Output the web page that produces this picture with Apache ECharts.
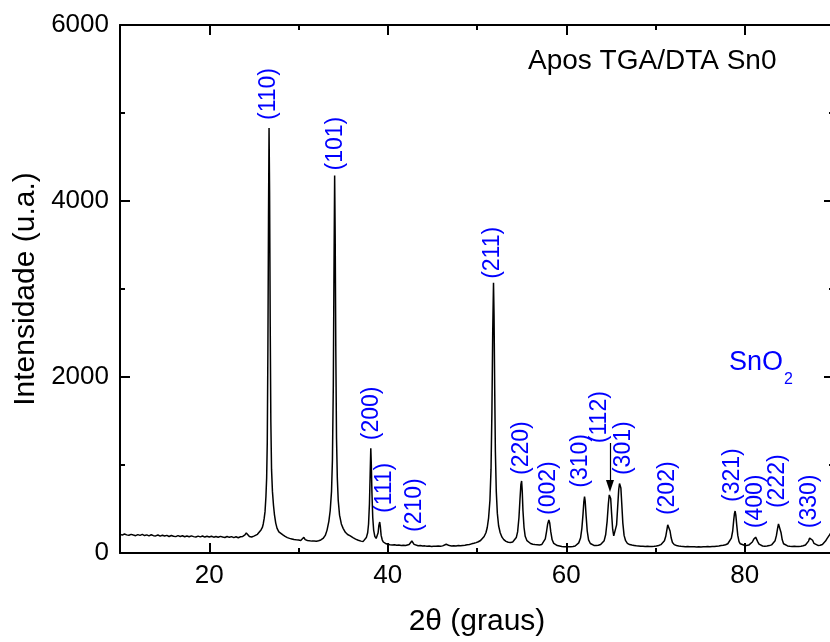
<!DOCTYPE html>
<html>
<head>
<meta charset="utf-8">
<script src="https://cdn.jsdelivr.net/npm/echarts@6/dist/echarts.min.js"></script>
<style>
  html, body { margin: 0; padding: 0; background: #ffffff; }
  #chart { width: 830px; height: 642px; }
</style>
</head>
<body>
<div id="chart"></div>
<script>
// Powder diffraction scan: [2θ (degrees), intensity (counts)]
const scanLow = [
  [10.0,214],[10.25,203],[10.5,216],[10.75,206],[11.0,201],[11.25,212],[11.5,204],[11.75,197],
  [12.0,209],[12.25,200],[12.5,211],[12.75,198],[13.0,206],[13.25,195],[13.5,207],[13.75,197],
  [14.0,194],[14.25,205],[14.5,192],[14.75,202],[15.0,193],[15.25,200],[15.5,188],[15.75,199],
  [16.0,190],[16.25,186],[16.5,197],[16.75,188],[17.0,196],[17.25,185],[17.5,193],[17.75,184],
  [18.0,195],[18.25,186],[18.5,182],[18.75,192],[19.0,183],[19.25,193],[19.5,181],[19.75,190],
  [20.0,182],[20.25,191],[20.5,180],[20.75,188],[21.0,179],[21.25,189],[21.5,181],[21.75,176],
  [22.0,187],[22.25,178],[22.5,186],[22.75,175],[23.0,184],[23.25,174],[23.5,185],[23.75,188],
  [24.0,205],[24.15,228],[24.3,210],[24.5,188],[24.75,182],[25.0,192],[25.2,200],[25.4,212],
  [25.6,232],[25.8,262],[25.95,290],[26.05,330],[26.15,390],[26.25,470],[26.35,640],[26.43,850],
  [26.5,1250],[26.57,2300],[26.64,3800],[26.7,4830],[26.76,4100],[26.83,2600],[26.9,1500],
  [26.98,950],[27.08,700],[27.2,540],[27.3,440],[27.45,340],[27.6,280],[27.8,240],[28.0,218],
  [28.25,205],[28.5,188],[28.75,175],[29.0,166],[29.25,160],[29.5,153],[29.75,150],[30.0,148]
];
const scanMid = [
  [30.25,143],[30.45,150],[30.6,178],[30.75,152],[31.0,142],[31.25,138],[31.5,135],[31.75,137],
  [32.0,134],[32.25,140],[32.5,148],[32.75,165],[33.0,200],[33.2,260],[33.4,360],[33.55,480],
  [33.7,700],[33.8,1050],[33.9,1900],[33.97,3100],[34.05,4290],[34.11,3600],[34.18,2300],
  [34.26,1300],[34.35,850],[34.45,600],[34.6,430],[34.8,330],[35.0,280],[35.25,235],[35.5,210],
  [35.8,195],[36.1,175],[36.4,158],[36.7,145],[37.0,135],[37.25,132],[37.45,145],[37.6,175],
  [37.75,230],[37.85,330],[37.95,560],[38.03,900],[38.1,1190],[38.16,1000],[38.23,680],
  [38.32,400],[38.42,260],[38.55,190],[38.7,165],[38.82,175],[38.92,230],[39.0,310],[39.1,352],
  [39.17,300],[39.26,200],[39.38,150],[39.5,125],[39.75,108],[40.0,100],[40.25,95],[40.5,92],
  [40.75,94],[41.0,88],[41.25,90],[41.5,86],[41.75,88],[42.0,85],[42.2,88],[42.4,96],[42.55,115],
  [42.7,136],[42.82,118],[42.95,98],[43.15,86],[43.4,82],[43.65,84],[43.9,79],[44.15,81],
  [44.4,77],[44.65,79],[44.9,75],[45.15,78],[45.4,76],[45.65,79],[45.9,77],[46.15,81],[46.35,88],
  [46.55,99],[46.7,92],[46.9,84],[47.15,80],[47.4,82],[47.65,80],[47.9,84],[48.15,83],[48.4,86],
  [48.65,88],[48.9,93],[49.15,97],[49.4,104],[49.65,110],[49.9,118],[50.15,128],[50.4,142],
  [50.6,160],[50.8,188],[51.0,230],[51.15,290],[51.3,400],[51.45,600],[51.57,950],[51.67,1600],
  [51.76,2500],[51.85,3070],[51.91,2700],[51.98,1900],[52.06,1150],[52.16,700],[52.28,450],
  [52.42,310],[52.6,230],[52.8,180],[53.0,152],[53.25,132],[53.5,122],[53.75,120],[54.0,126],
  [54.2,140],[54.4,175],[54.55,240],[54.7,400],[54.82,620],[54.92,780],[55.0,818],[55.07,700],
  [55.15,480],[55.27,290],[55.4,190],[55.6,140],[55.8,118],[56.0,108],[56.25,100],[56.5,96],
  [56.75,94],[57.0,92],[57.25,96],[57.45,110],[57.65,160],[57.8,250],[57.92,330],[58.05,375],
  [58.15,340],[58.27,240],[58.42,150],[58.6,110],[58.8,92],[59.0,85],[59.25,80],[59.5,74],
  [59.75,72],[60.0,70]
];
const scanHigh = [
  [60.25,72],[60.5,70],[60.75,74],[61.0,80],[61.2,92],[61.4,115],[61.6,170],[61.75,280],
  [61.87,430],[61.97,580],[62.05,640],[62.12,590],[62.22,430],[62.35,250],[62.5,150],[62.7,108],
  [62.9,92],[63.1,86],[63.35,84],[63.6,88],[63.85,96],[64.05,110],[64.25,140],[64.42,210],
  [64.58,360],[64.72,560],[64.82,660],[64.9,680],[64.98,620],[65.08,450],[65.2,270],[65.32,195],
  [65.42,185],[65.52,215],[65.64,320],[65.76,520],[65.88,720],[65.97,790],[66.05,795],
  [66.12,740],[66.22,560],[66.34,340],[66.48,200],[66.65,140],[66.85,110],[67.1,96],[67.35,90],
  [67.6,86],[67.85,82],[68.1,80],[68.35,76],[68.6,78],[68.85,74],[69.1,76],[69.35,73],[69.6,75],
  [69.85,77],[70.1,80],[70.35,86],[70.6,95],[70.8,110],[71.0,140],[71.15,190],[71.27,260],
  [71.37,320],[71.45,340],[71.53,315],[71.63,250],[71.76,170],[71.9,120],[72.1,95],[72.35,85],
  [72.6,80],[72.85,76],[73.1,74],[73.35,72],[73.6,74],[73.85,70],[74.1,72],[74.35,70],[74.6,68],
  [74.85,71],[75.1,69],[75.35,72],[75.6,70],[75.85,73],[76.1,72],[76.35,75],[76.6,74],[76.85,78],
  [77.1,80],[77.35,84],[77.6,88],[77.85,94],[78.1,105],[78.3,125],[78.5,170],[78.65,250],
  [78.77,380],[78.85,450],[78.92,477],[79.0,430],[79.1,320],[79.22,200],[79.36,130],[79.5,105],
  [79.7,92],[79.95,88],[80.2,86],[80.45,90],[80.65,100],[80.85,125],[81.0,155],[81.12,176],
  [81.22,180],[81.32,165],[81.45,130],[81.6,100],[81.8,86],[82.0,80],[82.25,78],[82.5,80],
  [82.75,84],[83.0,92],[83.2,105],[83.4,140],[83.55,200],[83.68,280],[83.78,330],[83.87,340],
  [83.96,310],[84.07,230],[84.2,150],[84.35,105],[84.55,88],[84.8,80],[85.05,76],[85.3,74],
  [85.55,76],[85.8,73],[86.05,75],[86.3,78],[86.55,82],[86.8,90],[87.0,105],[87.15,135],
  [87.27,170],[87.38,190],[87.48,182],[87.6,145],[87.75,110],[87.95,92],[88.2,86],[88.45,88],
  [88.7,96],[88.9,112],[89.05,135],[89.2,160],[89.35,180],[89.5,205],[89.7,240],[89.85,250],
  [90.0,235]
];

// SnO2 reflections (Miller indices) with their peak positions and heights
const hkl = ['(110)','(101)','(200)','(111)','(210)','(211)','(220)','(002)',
             '(310)','(112)','(301)','(202)','(321)','(400)','(222)','(330)'];
const peakTwoTheta = [26.7, 34.05, 38.1, 39.1, 42.7, 51.85, 55.0, 58.05,
                      62.05, 64.9, 66.05, 71.45, 78.92, 81.22, 83.87, 87.38];
const peakCounts = [4830, 4290, 1190, 352, 136, 3070, 818, 375,
                    640, 680, 795, 340, 477, 180, 340, 190];

// Axis tick labels
const xTickLabels = [20, 40, 60, 80];
const yTickLabels = [0, 2000, 4000, 6000];

// Pixel nudges for each index label: [horizontal shift, gap above the peak]
const labelNudge = [[0,8],[1,5],[1,8],[5,9],[3,9],[-1,4],[0,6],[0,5],
                    [-4,9],[-10,50],[3,8],[-1,8],[-2,9],[0,9],[-2,15],[-1,8]];

const FONT = '"Liberation Sans", Arial, Helvetica, sans-serif';
const chart = echarts.init(document.getElementById('chart'), null, { renderer: 'canvas' });

const scan = scanLow.concat(scanMid, scanHigh);

function xAxisCfg(pos, withLabels) {
  return {
    type: 'value', position: pos, min: 10, max: 90, interval: 20,
    axisLine: { show: true, onZero: false, lineStyle: { color: '#000', width: 2 } },
    axisTick: { show: true, inside: true, length: 5, lineStyle: { color: '#000', width: 2 } },
    minorTick: { show: true, splitNumber: 2, length: 10, lineStyle: { color: '#000', width: 2 } },
    axisLabel: withLabels ? {
      show: true, customValues: xTickLabels, margin: 10,
      fontSize: 26, fontFamily: FONT, color: '#000',
      formatter: v => String(v)
    } : { show: false },
    splitLine: { show: false }, minorSplitLine: { show: false },
    name: withLabels ? '2θ (graus)' : '',
    nameLocation: 'middle', nameGap: 54,
    nameTextStyle: { fontSize: 30, fontFamily: FONT, color: '#000' }
  };
}
function yAxisCfg(pos, withLabels) {
  return {
    type: 'value', position: pos, min: 0, max: 6000, interval: 2000,
    axisLine: { show: true, onZero: false, lineStyle: { color: '#000', width: 2 } },
    axisTick: { show: true, inside: true, length: 10, lineStyle: { color: '#000', width: 2 } },
    minorTick: { show: true, splitNumber: 2, length: 5, lineStyle: { color: '#000', width: 2 } },
    axisLabel: withLabels ? {
      show: true, customValues: yTickLabels, margin: 11,
      fontSize: 26, fontFamily: FONT, color: '#000',
      formatter: v => String(v)
    } : { show: false },
    splitLine: { show: false }, minorSplitLine: { show: false },
    name: withLabels ? 'Intensidade (u.a.)' : '',
    nameLocation: 'middle', nameGap: 78, nameRotate: 90,
    nameTextStyle: { fontSize: 30, fontFamily: FONT, color: '#000' }
  };
}

chart.setOption({
  animation: false,
  backgroundColor: '#ffffff',
  title: {
    text: 'Apos TGA/DTA Sn0', left: 528, top: 47, padding: 0,
    textStyle: { fontSize: 28, fontWeight: 'normal', fontFamily: FONT, color: '#000' }
  },
  grid: {
    left: 120, right: -4, top: 25, bottom: 89,
    containLabel: false, outerBoundsMode: 'none'
  },
  xAxis: [xAxisCfg('bottom', true), xAxisCfg('top', false)],
  yAxis: [yAxisCfg('left', true), yAxisCfg('right', false)],
  graphic: [
    { type: 'text', left: 729, top: 349,
      style: { text: 'SnO', fill: '#0000ff', font: '27px ' + FONT } },
    { type: 'text', left: 784, top: 372,
      style: { text: '2', fill: '#0000ff', font: '16px ' + FONT } }
  ],
  series: [
    {
      type: 'line', name: 'scan', data: scan, xAxisIndex: 0, yAxisIndex: 0,
      showSymbol: false, symbol: 'none', smooth: false,
      lineStyle: { color: '#000', width: 1.5 },
      markLine: {
        silent: true, symbol: ['none', 'triangle'], symbolSize: [8, 12],
        label: { show: false },
        lineStyle: { color: '#000', width: 1.2, type: 'solid' },
        data: [[{ coord: [64.9, 1250] }, { coord: [64.9, 760] }]]
      }
    },
    {
      type: 'custom', name: 'hkl', xAxisIndex: 0, yAxisIndex: 0, silent: true, z: 5,
      data: peakTwoTheta.map((t, i) => [t, peakCounts[i]]),
      renderItem: function (params, api) {
        const i = params.dataIndex;
        const p = api.coord([api.value(0), api.value(1)]);
        const n = labelNudge[i];
        return {
          type: 'text', x: p[0] + n[0], y: p[1] - n[1], rotation: Math.PI / 2,
          style: {
            text: hkl[i], fill: '#0000ff', font: '23px ' + FONT,
            align: 'left', verticalAlign: 'middle'
          }
        };
      }
    }
  ]
});
</script>
</body>
</html>
